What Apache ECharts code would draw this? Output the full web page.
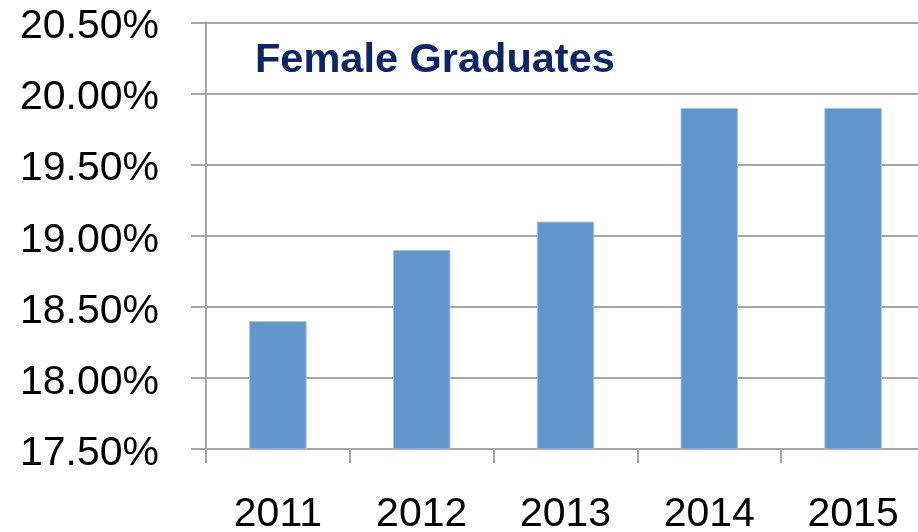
<!DOCTYPE html>
<html>
<head>
<meta charset="utf-8">
<script src="https://cdn.jsdelivr.net/npm/echarts@6/dist/echarts.min.js"></script>
<style>
html,body{margin:0;padding:0;background:#fff;}
#chart{width:918px;height:532px;}
</style>
</head>
<body>
<div id="chart"></div>
<script>
const categories = ['2011', '2012', '2013', '2014', '2015'];
const values = [18.4, 18.9, 19.1, 19.9, 19.9];
const titleText = 'Female Graduates';
const yMin = 17.5, yMax = 20.5, yStep = 0.5;

const chart = echarts.init(document.getElementById('chart'), null, {renderer: 'canvas'});
const gray = '#a6a6a6';
const font = 'Liberation Sans';
chart.setOption({
  animation: false,
  backgroundColor: '#fff',
  title: {
    text: titleText,
    left: 255, top: 40, padding: 0,
    textStyle: {fontFamily: font, fontSize: 41.5, fontWeight: 'bold', color: '#0b2565'}
  },
  grid: {left: 206, top: 22.5, bottom: 83, width: 719, containLabel: false, outerBoundsMode: 'none'},
  xAxis: {
    type: 'category',
    data: categories,
    axisLine: {show: true, lineStyle: {color: gray, width: 2}},
    axisTick: {show: true, length: 14, lineStyle: {color: gray, width: 2}},
    axisLabel: {margin: 45, fontFamily: font, fontSize: 41, color: '#000'},
    splitLine: {show: false}
  },
  yAxis: {
    type: 'value',
    min: yMin, max: yMax, interval: yStep,
    axisLine: {show: true, lineStyle: {color: gray, width: 2}},
    axisTick: {show: true, length: 15, lineStyle: {color: gray, width: 2}},
    axisLabel: {margin: 47, fontFamily: font, fontSize: 41, color: '#000',
      verticalAlign: 'top', lineHeight: 9,
      formatter: v => v.toFixed(2) + '%'},
    splitLine: {show: true, lineStyle: {color: gray, width: 2}}
  },
  series: [{
    type: 'bar',
    data: values,
    barWidth: '40%',
    itemStyle: {color: '#6096c9', borderColor: '#a9c5e4', borderWidth: 1}
  }]
});
</script>
</body>
</html>
